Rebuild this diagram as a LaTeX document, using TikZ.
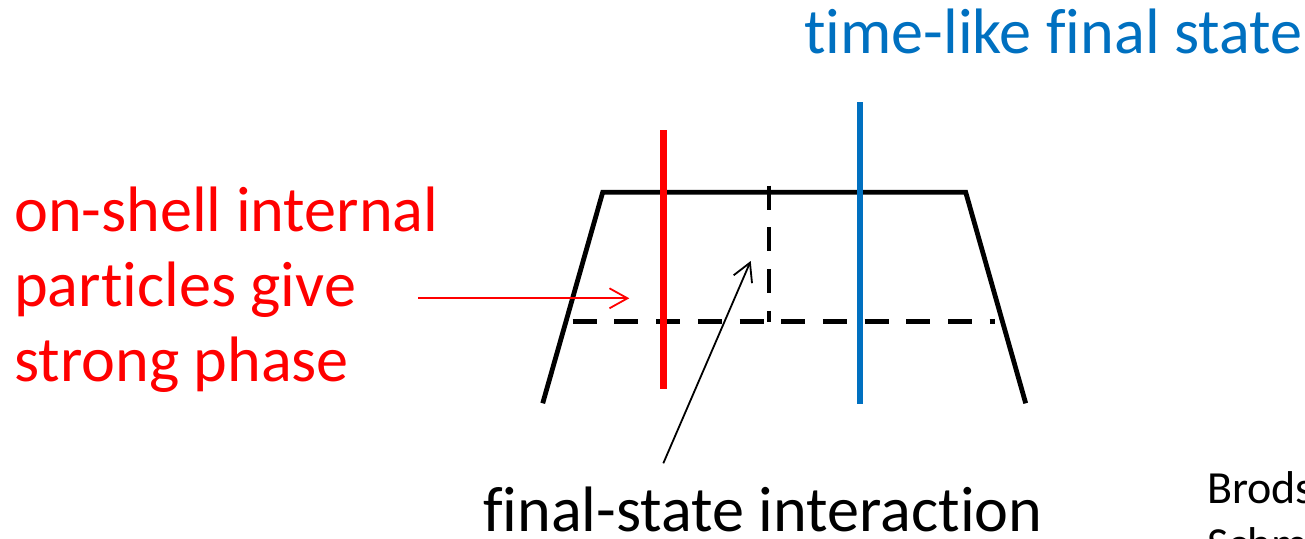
\documentclass[tikz,border=0pt]{standalone}
\usepackage{fontspec}
\setmainfont{Carlito}[Ligatures={CommonOff}]
\usetikzlibrary{arrows.meta}
\definecolor{offblue}{RGB}{0,112,192}
\definecolor{offred}{RGB}{255,0,0}
\tikzset{
  frame/.style={line width=4.8pt, line join=miter},
  cutline/.style={line width=4.8pt, dash pattern=on 24pt off 17.7pt},
  redcut/.style={line width=6.5pt, draw=offred},
  bluecut/.style={line width=6pt, draw=offblue},
  pointer/.style={line width=1.8pt, -{Straight Barb[length=18pt,width=20pt,line width=1.8pt]}},
  bigtext/.style={inner sep=0pt, font=\fontsize{64.2}{75}\selectfont},
  smalltext/.style={inner sep=0pt, font=\fontsize{46}{56}\selectfont},
}
\begin{document}
\begin{tikzpicture}[x=1pt, y=-1pt]
  \useasboundingbox (0,0) rectangle (1305,538);
  \clip (0,0) rectangle (1305,538);

  % corner points of the trapezoid
  \coordinate (bl) at (542.7,403.3);
  \coordinate (tl) at (602.7,192.3);
  \coordinate (tr) at (965.7,192.3);
  \coordinate (br) at (1025.7,403.3);

  % dashed cut lines
  \coordinate (hcutL) at (572.7,321.7);
  \coordinate (hcutR) at (995,321.7);
  \coordinate (vcutT) at (769,185.7);
  \coordinate (vcutB) at (769,321.7);
  \draw[cutline] (hcutL) -- (hcutR);
  \draw[cutline] (vcutT) -- (vcutB);

  % trapezoid outline
  \draw[frame] (bl) -- (tl) -- (tr) -- (br);

  % cuts through the diagram
  \coordinate (redT) at (663.3,130);
  \coordinate (redB) at (663.3,389);
  \coordinate (blueT) at (860,102);
  \coordinate (blueB) at (860,404.3);
  \draw[redcut] (redT) -- (redB);
  \draw[bluecut] (blueT) -- (blueB);

  % labels
  \node[bigtext, text=offred, anchor=base west] (l1) at (14,231.7) {on-shell internal};
  \node[bigtext, text=offred, anchor=base west] (l2) at (14,306.7) {particles give};
  \node[bigtext, text=offred, anchor=base west] (l3) at (14,381.7) {strong phase};
  \node[bigtext, text=offblue, anchor=base west] (tl1) at (804,53.3) {time-like final state};
  \node[bigtext, anchor=base west] (fsi) at (483,531.7) {final-state interaction};
  \node[smalltext, anchor=base west] (ref1) at (1207,503) {Brodsky,};
  \node[smalltext, anchor=base west] (ref2) at (1207,559) {Schmidt};

  % pointers
  \coordinate (redA) at (418,298.3);
  \coordinate (redZ) at (629.3,298.3);
  \draw[pointer, draw=offred] (redA) -- (redZ);
  \coordinate (blkA) at (663.3,463.3);
  \coordinate (blkZ) at (750.7,261);
  \draw[pointer] (blkA) -- (blkZ);
\end{tikzpicture}
\end{document}
